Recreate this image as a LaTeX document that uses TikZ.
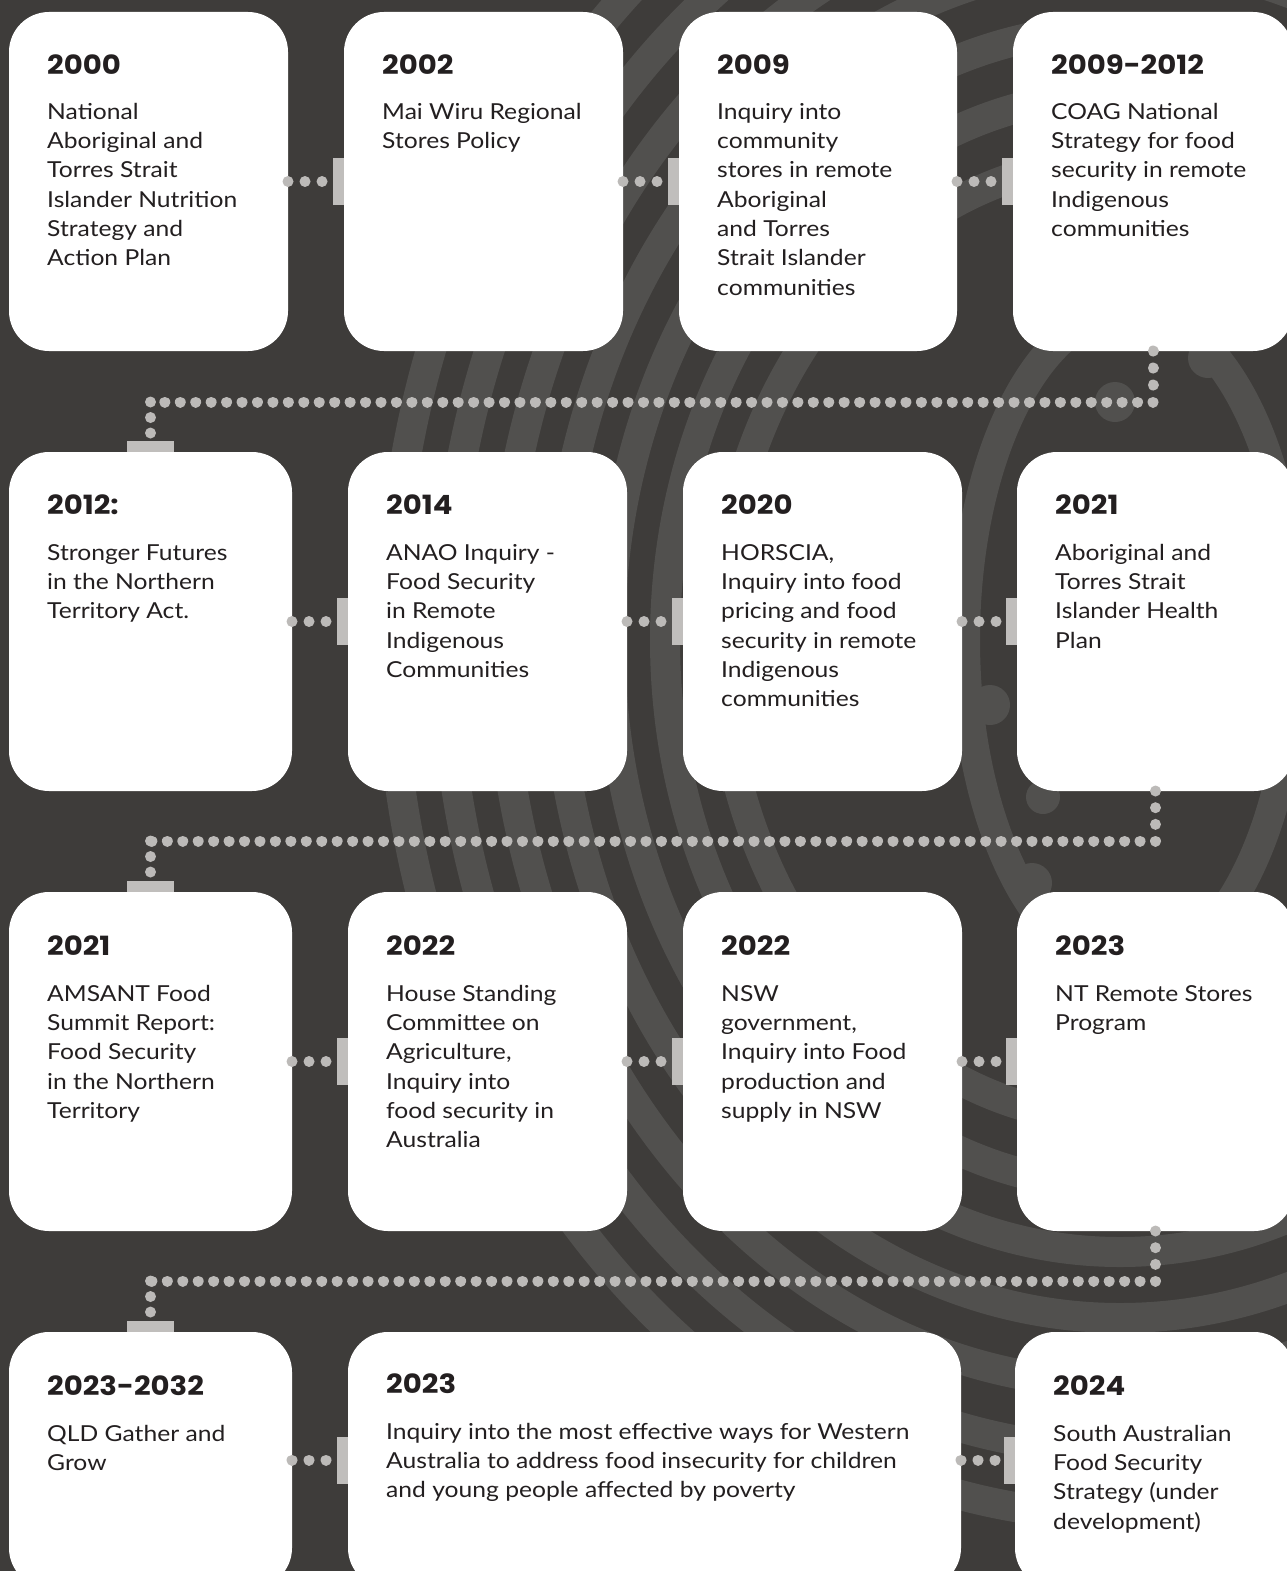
\documentclass[tikz,border=0pt]{standalone}
\usepackage{fontspec}
\setmainfont{Lato}[FakeStretch=1.12]
\newfontfamily\yearfont{Poppins}[FakeStretch=1.1]
\definecolor{bgc}{HTML}{3E3C3A}
\definecolor{bandc}{HTML}{51504E}
\definecolor{dotc}{HTML}{BCBAB8}
\definecolor{barc}{HTML}{C0BEBC}
\definecolor{ink}{HTML}{231F20}
\tikzset{
  card/.style={fill=white, rounded corners=40pt, inner sep=0pt, outer sep=0pt, anchor=north west},
  yeartxt/.style={anchor=base west, inner sep=0pt, text=ink, font=\yearfont\bfseries\fontsize{26.5pt}{30pt}\selectfont},
  bodytxt/.style={anchor=north west, inner sep=0pt, align=left, text=ink, font=\fontsize{22pt}{29.3pt}\selectfont},
  dotline/.style={draw=dotc, line width=11pt, line cap=round, dash pattern=on 0.01pt off #1},
  vbar/.style={fill=barc, minimum width=11pt, minimum height=47pt, inner sep=0pt, outer sep=0pt, anchor=east},
  hbar/.style={fill=barc, minimum width=47pt, minimum height=11pt, inner sep=0pt, outer sep=0pt, anchor=south},
  band/.style={draw=bandc, line width=30pt},
  blob/.style={fill=bandc},
}
% name, x, y, w, h, year offset, body offset, year, body
\newcommand\mkcard[9]{%
  \node[card, minimum width=#4pt, minimum height=#5pt] (#1) at (#2,#3) {};
  \node[yeartxt] (#1y) at ([shift={(38pt,-#6pt)}]#1.north west) {#8};
  \node[bodytxt] (#1t) at ([shift={(38pt,-#7pt)}]#1.north west) {\strut #9};
}
\begin{document}
\begin{tikzpicture}[x=1pt, y=-1pt]
\useasboundingbox (0,0) rectangle (1287,1571);
\fill[bgc] (0,0) rectangle (1287,1571);
\clip (0,0) rectangle (1287,1571);

% background decoration
\foreach \r in {400,455,510,565,620,675,730} {
  \draw[band] (1120,640) ellipse [x radius=\r pt, y radius=1.2*\r pt];
}
\draw[band] (1130,640) ellipse [x radius=165pt, y radius=330pt];
\fill[blob] (1115,402) circle (20pt);
\fill[blob] (1208,358) circle (20pt);
\fill[blob] (1043,797) circle (17pt);
\fill[blob] (1032,883) circle (20pt);
\fill[blob] (990,705) circle (20pt);

% cards row 1
\mkcard{b1}{9}{12}{279}{339}{62.3}{86.5}{2000}{National\\Aboriginal and\\Torres Strait\\Islander Nutrition\\Strategy and\\Action Plan}
\mkcard{b2}{344}{12}{279}{339}{62.3}{86.5}{2002}{Mai Wiru Regional\\Stores Policy}
\mkcard{b3}{679}{12}{278}{339}{62.3}{86.5}{2009}{Inquiry into\\community\\stores in remote\\Aboriginal\\and Torres\\Strait Islander\\communities}
\mkcard{b4}{1013}{12}{280}{339}{62.3}{86.5}{2009-2012}{COAG National\\Strategy for food\\security in remote\\Indigenous\\communities}
% row 2
\mkcard{b5}{9}{452}{283}{339}{62.3}{87.5}{2012:}{Stronger Futures\\in the Northern\\Territory Act.}
\mkcard{b6}{348}{452}{279}{339}{62.3}{87.5}{2014}{ANAO Inquiry -\\Food Security\\in Remote\\Indigenous\\Communities}
\mkcard{b7}{683}{452}{279}{339}{62.3}{87.5}{2020}{HORSCIA,\\Inquiry into food\\pricing and food\\security in remote\\Indigenous\\communities}
\mkcard{b8}{1017}{452}{277}{339}{62.3}{87.5}{2021}{Aboriginal and\\Torres Strait\\Islander Health\\Plan}
% row 3
\mkcard{b9}{9}{892}{283}{339}{63.3}{88.5}{2021}{AMSANT Food\\Summit Report:\\Food Security\\in the Northern\\Territory}
\mkcard{b10}{348}{892}{279}{339}{63.3}{88.5}{2022}{House Standing\\Committee on\\Agriculture,\\Inquiry into\\food security in\\Australia}
\mkcard{b11}{683}{892}{279}{339}{63.3}{88.5}{2022}{NSW\\government,\\Inquiry into Food\\production and\\supply in NSW}
\mkcard{b12}{1017}{892}{277}{339}{63.3}{88.5}{2023}{NT Remote Stores\\Program}
% row 4
\mkcard{b13}{9}{1332}{283}{256}{63.3}{88.5}{2023-2032}{QLD Gather and\\Grow}
\mkcard{b14}{348}{1332}{613}{256}{61.3}{86.5}{2023}{Inquiry into the most effective ways for Western\\Australia to address food insecurity for children\\and young people affected by poverty}
\mkcard{b15}{1015}{1332}{279}{256}{63.3}{88.5}{2024}{South Australian\\Food Security\\Strategy (under\\development)}

% bars at the start of each following card
\node[vbar] (k2) at (b2.west) {};
\node[vbar] (k3) at (b3.west) {};
\node[vbar] (k4) at (b4.west) {};
\node[vbar] (k6) at (b6.west) {};
\node[vbar] (k7) at (b7.west) {};
\node[vbar] (k8) at (b8.west) {};
\node[vbar] (k10) at (b10.west) {};
\node[vbar] (k11) at (b11.west) {};
\node[vbar] (k12) at (b12.west) {};
\node[vbar] (k14) at (b14.west) {};
\node[vbar] (k15) at (b15.west) {};
\node[hbar] (k5) at (b5.north) {};
\node[hbar] (k9) at (b9.north) {};
\node[hbar] (k13) at (b13.north) {};

% in-row connectors
\draw[dotline=17pt] (b1.east) -- (k2.west);
\draw[dotline=17pt] (b2.east) -- (k3.west);
\draw[dotline=17pt] (b3.east) -- (k4.west);
\draw[dotline=17pt] (b5.east) -- (k6.west);
\draw[dotline=17pt] (b6.east) -- (k7.west);
\draw[dotline=17pt] (b7.east) -- (k8.west);
\draw[dotline=17pt] (b9.east) -- (k10.west);
\draw[dotline=17pt] (b10.east) -- (k11.west);
\draw[dotline=17pt] (b11.east) -- (k12.west);
\draw[dotline=17pt] (b13.east) -- (k14.west);
\draw[dotline=17pt] (b14.east) -- (k15.west);

% row-to-row connectors
\coordinate (h1) at (0,402);
\coordinate (h2) at (0,841);
\coordinate (h3) at (0,1281);
\draw[dotline=17pt] (b4.south) -- (b4.south |- h1);
\draw[dotline=15.43pt] (b4.south |- h1) -- (b5.north |- h1);
\draw[dotline=15.5pt] (b5.north |- h1) -- (k5.north);
\draw[dotline=16.67pt] (b8.south) -- (b8.south |- h2);
\draw[dotline=15.43pt] (b8.south |- h2) -- (b9.north |- h2);
\draw[dotline=15.5pt] (b9.north |- h2) -- (k9.north);
\draw[dotline=16.67pt] (b12.south) -- (b12.south |- h3);
\draw[dotline=15.43pt] (b12.south |- h3) -- (b13.north |- h3);
\draw[dotline=15.5pt] (b13.north |- h3) -- (k13.north);
\end{tikzpicture}
\end{document}
